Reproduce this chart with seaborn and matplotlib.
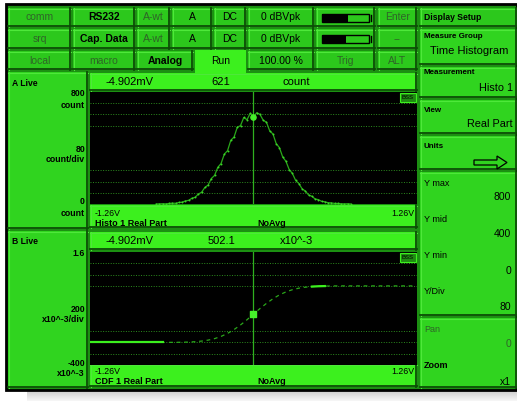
import numpy as np
import pandas as pd
import matplotlib
matplotlib.use("Agg")
import matplotlib.pyplot as plt
import seaborn as sns
from matplotlib.patches import Rectangle, Polygon

plt.rcParams['font.family'] = ['Liberation Sans', 'DejaVu Sans']

# ---- data ----
marker_v = -0.004902          # cursor position (V)
x_range = [-1.26, 1.26]

# histogram (count per bin), bins start at -0.75 V, step 0.025 V
hist_start = -0.75
hist_step = 0.025
hist_counts = [0, 1, 2, 1, 4, 6, 5, 11, 13, 22,
               26, 41, 48, 71, 84, 118, 135, 182, 204, 262,
               289, 356, 381, 455, 478, 548, 560, 618, 602, 648,
               621,
               652, 640, 598, 584, 522, 500, 431, 402, 336, 305,
               246, 218, 168, 146, 108, 92, 64, 55, 36, 31,
               19, 16, 9, 8, 4, 4, 2, 1, 2, 0]
hist_readout = 621

# CDF, samples start at -1.25 V, step 0.05 V
cdf_start = -1.25
cdf_step = 0.05
cdf_values = [0, 0, 0, 0, 0, 0, 0, 0, 0, 0, 0, 0,
              0.001, 0.001, 0.003, 0.006, 0.012, 0.023, 0.040, 0.067, 0.106, 0.159,
              0.227, 0.309, 0.401, 0.502, 0.599, 0.691, 0.773, 0.841, 0.894, 0.933,
              0.960, 0.977, 0.988, 0.994, 0.997, 0.999,
              1, 1, 1, 1, 1, 1, 1, 1, 1, 1, 1, 1, 1]
cdf_readout = 0.5021

hist_ylim = [0, 800]
hist_grid = [720, 640, 560, 240, 160, 80]
cdf_ylim = [-0.4, 1.6]
cdf_grid = [1.4, 1.2, 1.0, 0.2, 0.0, -0.2]

top_row1 = ["comm", "RS232", "A-wt", "A", "DC", "0 dBVpk", "", "Enter"]
top_row2 = ["srq", "Cap. Data", "A-wt", "A", "DC", "0 dBVpk", "", "--"]
top_row3 = ["local", "macro", "Analog", "Run", "100.00 %", "Trig", "ALT"]
meter_fill = [0.55, 0.5]

# ---- colours ----
GAP = '#1c9012'
BTN = '#2cc81c'
BRIGHT = '#3cf01e'
PANEL = '#30d41f'
DARK = '#0c4c06'
LIGHT = '#4ee83a'
GREY_TXT = '#2f6428'
TRACE = '#2aa81a'

W, H = 517, 401
fig = plt.figure(figsize=(W / 100, H / 100), dpi=100)
fig.patch.set_facecolor('white')

bg = fig.add_axes([0, 0, 1, 1])
bg.set_xlim(0, W)
bg.set_ylim(H, 0)
bg.axis('off')

# shadow under the screen
grad = np.linspace(0.78, 0.96, 12)[:, None] * np.ones((1, 50))
bg.imshow(grad, cmap='gray', vmin=0, vmax=1, extent=[27, W, 401, 389], aspect='auto', zorder=0)

# screen body
bg.add_patch(Rectangle((6, 4), W - 6, 386, facecolor=GAP, edgecolor='black', lw=2, zorder=1))


def button(x0, x1, y0, y1, fc=BTN, bevel=True):
    bg.add_patch(Rectangle((x0, y0), x1 - x0, y1 - y0, facecolor=fc, edgecolor='none', zorder=2))
    if bevel:
        bg.plot([x0, x1], [y0 + 0.5, y0 + 0.5], color=LIGHT, lw=0.8, zorder=3)
        bg.plot([x0 + 0.5, x0 + 0.5], [y0, y1], color=LIGHT, lw=0.8, zorder=3)
        bg.plot([x0, x1], [y1 - 0.7, y1 - 0.7], color=DARK, lw=1.3, zorder=3)
        bg.plot([x1 - 0.7, x1 - 0.7], [y0, y1], color=DARK, lw=1.3, zorder=3)


def label(x, y, s, size=7, weight='normal', color='black', ha='center'):
    bg.text(x, y, s, fontsize=size, fontweight=weight, color=color, ha=ha, va='center', zorder=6)


# ---- top button rows ----
cols = [(8, 71), (73, 135), (137, 170), (172, 212), (214, 246), (248, 314), (316, 375), (378, 417)]
rows = [(8, 27), (29, 49), (51, 70)]
grey_words = {"comm", "srq", "local", "macro", "A-wt", "Enter", "--", "Trig", "ALT"}
bold_words = {"RS232", "Cap. Data", "Analog"}

for (y0, y1), row in zip(rows[:2], [top_row1, top_row2]):
    for (x0, x1), txt in zip(cols, row):
        button(x0, x1, y0, y1)
        col = GREY_TXT if txt in grey_words else 'black'
        wt = 'bold' if txt in bold_words else 'normal'
        label((x0 + x1) / 2, (y0 + y1) / 2, txt, size=7.5, weight=wt, color=col)

cols3 = [(8, 71), (73, 135), (137, 193), (195, 246), (248, 314), (316, 375), (378, 417)]
y0, y1 = rows[2]
for (x0, x1), txt in zip(cols3, top_row3):
    if txt == "Run":
        bg.add_patch(Rectangle((x0, y0 - 1), x1 - x0, y1 - y0 + 4, facecolor=BRIGHT, edgecolor='none', zorder=2))
    else:
        button(x0, x1, y0, y1)
    col = GREY_TXT if txt in grey_words else 'black'
    wt = 'bold' if txt in bold_words else 'normal'
    label((x0 + x1) / 2, (y0 + y1) / 2 + 0.5, txt, size=7.5, weight=wt, color=col)

# level meters
for (ry0, ry1), f in zip(rows[:2], meter_fill):
    mx0, mx1 = 322, 369
    my = (ry0 + ry1) / 2
    bg.add_patch(Rectangle((mx0, my - 4), mx1 - mx0, 8, facecolor='none', edgecolor='black', lw=1, zorder=4))
    bg.add_patch(Rectangle((mx0, my - 4), (mx1 - mx0) * f, 8, facecolor='black', edgecolor='none', zorder=4))
    bg.plot([mx1 + 2, mx1 + 2], [my - 3, my + 3], color='black', lw=1, zorder=4)

# ---- right side panel ----
button(420, W, 8, 27)
label(424, 17.5, "Display Setup", size=6.2, weight='bold', ha='left')
rp = [(29, 65), (67, 98), (100, 134), (136, 170), (172, 316), (318, 388)]
for y0, y1 in rp:
    button(420, W, y0, y1, fc=PANEL)
label(424, 37, "Measure Group", size=5.8, weight='bold', ha='left')
label(469, 51, "Time Histogram", size=8)
label(424, 73, "Measurement", size=5.8, weight='bold', ha='left')
label(513, 88, "Histo 1", size=7.8, ha='right')
label(424, 110, "View", size=5.8, weight='bold', ha='left')
label(513, 124, "Real Part", size=7.8, ha='right')
label(424, 146, "Units", size=5.8, weight='bold', ha='left')
bg.add_patch(Polygon([[474, 160], [497, 160], [497, 156], [507, 162.5], [497, 169], [497, 165], [474, 165]],
                     closed=True, facecolor='none', edgecolor='black', lw=0.9, zorder=5))
side = [("Y max", "800", 183, 197), ("Y mid", "400", 219, 234), ("Y min", "0", 256, 271), ("Y/Div", "80", 292, 307)]
for name, val, ya, yb in side:
    label(424, ya, name, size=6.5, ha='left')
    label(511, yb, val, size=7.5, ha='right')
label(424, 329, "Pan", size=6.5, ha='left', color=GREY_TXT)
label(511, 344, "0", size=7.5, ha='right', color=GREY_TXT)
label(424, 366, "Zoom", size=6.5, weight='bold', ha='left')
label(511, 382, "x1", size=7.5, ha='right')


# ---- trace panels ----
def px(x, y, w, h):
    return [x / W, 1 - (y + h) / H, w / W, h / H]


def panel(top, name, ytxt, hdr_val, hdr_unit, title):
    # left label panel, header, bottom bar
    button(8, 88, top, top + 157, fc=PANEL)
    button(90, 417, top + 1, top + 19, fc=BRIGHT)
    button(90, 417, top + 133, top + 156, fc=BRIGHT)
    label(12, top + 11, name, size=6.2, weight='bold', ha='left')
    for (yy, s) in ytxt:
        label(85, top + yy, s, size=6.3, weight='semibold', ha='right')
    label(130, top + 10, "-4.902mV", size=8)
    label(221, top + 10, hdr_val, size=8)
    label(296, top + 10, hdr_unit, size=8)
    label(95, top + 141, "-1.26V", size=6.3, ha='left')
    label(95, top + 151, title, size=6.5, weight='bold', ha='left')
    label(257, top + 151, "NoAvg", size=6.5, weight='bold', ha='left')
    label(414, top + 141, "1.26V", size=6.3, ha='right')


panel(72, "A Live", [(22, "800"), (33, "count"), (77, "80"), (88, "count/div"), (130, "0"), (142, "count")],
      str(hist_readout), "count", "Histo 1 Real Part")
panel(231, "B Live", [(22, "1.6"), (78, "200"), (89, "x10^-3/div"), (132, "-400"), (143, "x10^-3")],
      "502.1", "x10^-3", "CDF 1 Real Part")


def trace_axes(box, ylim, grid):
    ax = fig.add_axes(px(*box))
    ax.set_facecolor('black')
    ax.set_xlim(*x_range)
    ax.set_ylim(*ylim)
    for g in grid:
        ax.axhline(g, color='#2c8c1e', lw=0.7, ls=(0, (1, 1.6)), zorder=1)
    ax.axvline(marker_v, color='#2fb01f', lw=0.9, zorder=2)
    ax.set_xticks([])
    ax.set_yticks([])
    for s in ax.spines.values():
        s.set_visible(False)
    return ax


# histogram
hist_df = pd.DataFrame({'volts': [hist_start + i * hist_step for i in range(len(hist_counts))],
                        'count': hist_counts})
ax_a = trace_axes((90, 92, 327, 112), hist_ylim, hist_grid)
sns.lineplot(data=hist_df, x='volts', y='count', ax=ax_a, color=TRACE, lw=0.9, estimator=None, zorder=3)
sns.scatterplot(data=hist_df, x='volts', y='count', ax=ax_a, color='#3ad526', s=2, linewidth=0, zorder=4)
ax_a.scatter([marker_v], [hist_readout], s=14, color='#45f02a', zorder=5)
ax_a.set_xlabel('')
ax_a.set_ylabel('')

# CDF
cdf_df = pd.DataFrame({'volts': [cdf_start + i * cdf_step for i in range(len(cdf_values))],
                       'cdf': cdf_values})
ax_b = trace_axes((90, 252, 327, 113), cdf_ylim, cdf_grid)
flat_lo = cdf_df[cdf_df['volts'] <= -0.65]
rising = cdf_df[cdf_df['volts'] >= -0.65]
flat_hi = cdf_df[(cdf_df['volts'] >= 0.45) & (cdf_df['volts'] <= 0.56)]
sns.lineplot(data=flat_lo, x='volts', y='cdf', ax=ax_b, color=BRIGHT, lw=1.6, estimator=None, zorder=4)
sns.lineplot(data=rising, x='volts', y='cdf', ax=ax_b, color='#2aa81a', lw=0.9, estimator=None,
             zorder=3).lines[-1].set_linestyle((0, (3, 3)))
sns.lineplot(data=flat_hi, x='volts', y='cdf', ax=ax_b, color=BRIGHT, lw=1.6, estimator=None, zorder=4)
ax_b.scatter([marker_v], [cdf_readout], s=16, marker='s', color='#45f02a', zorder=5)
ax_b.set_xlabel('')
ax_b.set_ylabel('')

# small BSS badges on top of the traces
top = fig.add_axes([0, 0, 1, 1], zorder=10)
top.set_xlim(0, W)
top.set_ylim(H, 0)
top.axis('off')
for yb in (93, 253):
    top.add_patch(Rectangle((400, yb), 16, 9, facecolor='#1f8a12', edgecolor='#3cf01e', lw=0.8))
    top.text(408, yb + 4.6, "BSS", fontsize=4.3, color='black', ha='center', va='center')

fig.savefig("out.png", dpi=100)
